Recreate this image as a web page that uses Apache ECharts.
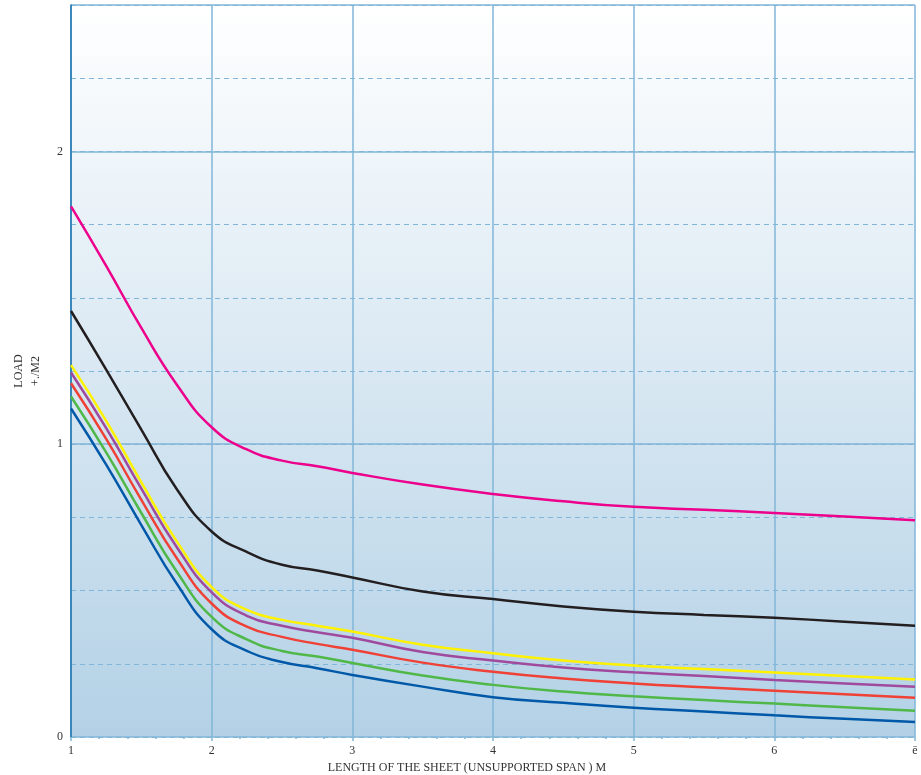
<!DOCTYPE html>
<html>
<head>
<meta charset="utf-8">
<script src="https://cdn.jsdelivr.net/npm/echarts@6/dist/echarts.min.js"></script>
<style>
  html, body { margin: 0; padding: 0; background: #fff; }
  #chart { width: 921px; height: 775px; }
</style>
</head>
<body>
<div id="chart"></div>
<script>
"use strict";

// span lengths (m) where the curves were read
var spans = [1, 1.25, 1.5, 1.75, 2, 2.25, 2.5, 2.75, 3, 3.5, 4, 4.5, 5, 5.5, 6, 6.5, 7];

var magentaLoad = [1.812, 1.609, 1.397, 1.205, 1.058, 0.982, 0.944, 0.925, 0.902, 0.862, 0.83, 0.805, 0.786, 0.776, 0.765, 0.753, 0.74];
var blackLoad   = [1.455, 1.255, 1.05, 0.848, 0.702, 0.632, 0.588, 0.569, 0.545, 0.497, 0.471, 0.446, 0.428, 0.417, 0.407, 0.394, 0.38];
var yellowLoad  = [1.27, 1.08, 0.87, 0.67, 0.512, 0.434, 0.40, 0.38, 0.36, 0.315, 0.286, 0.261, 0.244, 0.232, 0.22, 0.208, 0.196];
var purpleLoad  = [1.245, 1.055, 0.848, 0.65, 0.494, 0.414, 0.38, 0.358, 0.339, 0.29, 0.261, 0.237, 0.221, 0.208, 0.195, 0.183, 0.172];
var redLoad     = [1.208, 1.018, 0.81, 0.612, 0.456, 0.377, 0.342, 0.318, 0.298, 0.254, 0.223, 0.2, 0.183, 0.17, 0.158, 0.146, 0.134];
var greenLoad   = [1.163, 0.972, 0.765, 0.566, 0.41, 0.333, 0.294, 0.275, 0.253, 0.21, 0.178, 0.155, 0.139, 0.126, 0.114, 0.102, 0.09];
var blueLoad    = [1.122, 0.93, 0.724, 0.525, 0.368, 0.294, 0.256, 0.235, 0.212, 0.172, 0.136, 0.117, 0.10, 0.087, 0.074, 0.062, 0.051];

var xTickLabels = { 1: '1', 2: '2', 3: '3', 4: '4', 5: '5', 6: '6', 7: 'ē' };
var yTickLabels = { 0: '0', 1: '1', 2: '2' };

var curves = [
  { name: 'magenta', data: magentaLoad, color: '#ec008c' },
  { name: 'black',   data: blackLoad,   color: '#231f20' },
  { name: 'yellow',  data: yellowLoad,  color: '#fff200' },
  { name: 'purple',  data: purpleLoad,  color: '#a04a9e' },
  { name: 'red',     data: redLoad,     color: '#ef4136' },
  { name: 'green',   data: greenLoad,   color: '#50b848' },
  { name: 'blue',    data: blueLoad,    color: '#0058a8' }
];

var gridColor = '#82b6d8';
var fontFam = '"Liberation Serif", "DejaVu Serif", serif';

var option = {
  animation: false,
  grid: {
    left: 71, right: 6, top: 5, bottom: 38,
    outerBoundsMode: 'none',
    containLabel: false,
    show: true,
    borderWidth: 0,
    backgroundColor: new echarts.graphic.LinearGradient(0, 0, 0, 1, [
      { offset: 0, color: '#ffffff' },
      { offset: 1, color: '#b3d1e6' }
    ])
  },
  xAxis: {
    type: 'value',
    min: 1, max: 7, interval: 1,
    name: 'LENGTH OF THE SHEET (UNSUPPORTED SPAN ) M',
    nameLocation: 'middle',
    nameGap: 22,
    nameTextStyle: { fontFamily: fontFam, fontSize: 12, color: '#333', padding: [0, 52, 0, 0] },
    axisLine: { show: false },
    axisTick: { show: true, length: 4, lineStyle: { color: gridColor, width: 1.5 } },
    minorTick: { show: true, splitNumber: 5, length: 2, lineStyle: { color: gridColor, width: 1.5 } },
    axisLabel: {
      fontFamily: fontFam, fontSize: 12, color: '#333', margin: 8,
      formatter: function (v) { return xTickLabels[v] || ''; }
    },
    splitLine: { show: true, lineStyle: { color: gridColor, width: 1.5 } }
  },
  yAxis: [{
    type: 'value',
    min: 0, max: 2.5, interval: 0.25,
    name: 'LOAD\n+./M2',
    nameLocation: 'middle',
    nameRotate: 90,
    nameGap: 27,
    nameTextStyle: { fontFamily: fontFam, fontSize: 12, color: '#333', lineHeight: 17 },
    axisLine: { show: true, lineStyle: { color: '#1c73ad', width: 1.5 } },
    axisTick: { show: false },
    axisLabel: {
      fontFamily: fontFam, fontSize: 12, color: '#333', margin: 8,
      formatter: function (v) { return yTickLabels[v] || ''; }
    },
    splitLine: { show: true, lineStyle: { color: gridColor, width: 1.2, type: [5, 4] } }
  }, {
    type: 'value',
    min: 0, max: 2.5, interval: 1,
    position: 'left',
    axisLine: { show: false },
    axisTick: { show: false },
    axisLabel: { show: false },
    splitLine: { show: true, lineStyle: { color: gridColor, width: 1.5 } }
  }],
  series: curves.map(function (c) {
    return {
      name: c.name,
      type: 'line',
      smooth: 0.5,
      symbol: 'none',
      yAxisIndex: 0,
      lineStyle: { color: c.color, width: 2.5 },
      data: spans.map(function (x, i) { return [x, c.data[i]]; }),
      z: 3
    };
  })
};

var myChart = echarts.init(document.getElementById('chart'));
myChart.setOption(option);
</script>
</body>
</html>
